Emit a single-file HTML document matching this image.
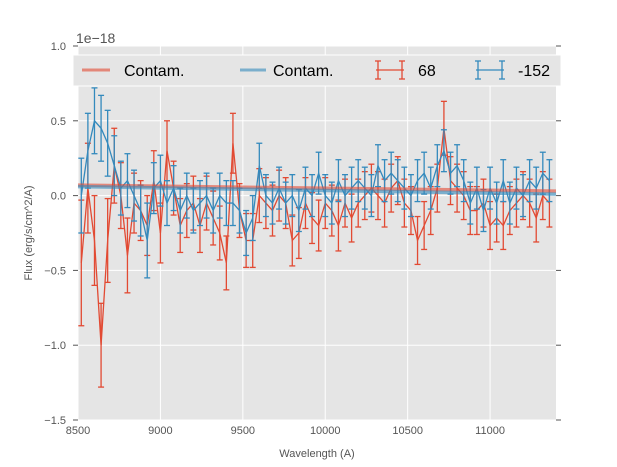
<!DOCTYPE html>
<html><head><meta charset="utf-8"><style>
body{margin:0;background:#fff;}
svg{display:block;font-family:"Liberation Sans",sans-serif;}
</style></head><body>
<svg id="chart" width="617" height="467">
<rect x="78" y="46" width="478" height="374" fill="#E5E5E5"/>
<g id="grid"></g><g id="marks"></g><g id="axes"></g>
<text x="76" y="43" font-size="14" fill="#555">1e−18</text>
<text x="317" y="457" font-size="11" fill="#555" text-anchor="middle">Wavelength (A)</text>
<text transform="translate(32,233) rotate(-90)" font-size="11" fill="#555" text-anchor="middle">Flux (erg/s/cm^2/A)</text>
<g>
<rect x="73" y="55" width="488" height="31" fill="#E5E5E5" stroke="#fff" stroke-width="1"/>
<line x1="82" y1="70" x2="110" y2="70" stroke="#E24A33" stroke-width="3" opacity="0.6"/>
<text x="124" y="76" font-size="16">Contam.</text>
<line x1="240" y1="70" x2="266" y2="70" stroke="#348ABD" stroke-width="3" opacity="0.6"/>
<text x="273" y="76" font-size="16">Contam.</text>
<g stroke="#E24A33" stroke-width="1.3"><line x1="376" y1="70" x2="404" y2="70"/><line x1="378" y1="61" x2="378" y2="79"/><line x1="402" y1="61" x2="402" y2="79"/><line x1="375" y1="61" x2="381" y2="61"/><line x1="375" y1="79" x2="381" y2="79"/><line x1="399" y1="61" x2="405" y2="61"/><line x1="399" y1="79" x2="405" y2="79"/></g>
<text x="418" y="76" font-size="16">68</text>
<g stroke="#348ABD" stroke-width="1.3"><line x1="476" y1="70" x2="504" y2="70"/><line x1="478" y1="61" x2="478" y2="79"/><line x1="502" y1="61" x2="502" y2="79"/><line x1="475" y1="61" x2="481" y2="61"/><line x1="475" y1="79" x2="481" y2="79"/><line x1="499" y1="61" x2="505" y2="61"/><line x1="499" y1="79" x2="505" y2="79"/></g>
<text x="518" y="76" font-size="16">-152</text>
</g>
</svg>
<script>
const waves=[8520,8560,8600,8640,8680,8720,8760,8800,8840,8880,8920,8960,9000,9040,9080,9120,9160,9200,9240,9280,9320,9360,9400,9440,9480,9520,9560,9600,9640,9680,9720,9760,9800,9840,9880,9920,9960,10000,10040,10080,10120,10160,10200,10240,10280,10320,10360,10400,10440,10480,10520,10560,10600,10640,10680,10720,10760,10800,10840,10880,10920,10960,11000,11040,11080,11120,11160,11200,11240,11280,11320,11360];
const red=[-0.45,0.05,-0.3,-1.0,-0.3,0.2,0.0,-0.4,-0.05,-0.1,-0.2,0.1,-0.25,0.3,0.05,-0.2,-0.1,-0.05,-0.2,-0.05,-0.15,-0.25,-0.45,0.35,-0.1,-0.3,-0.3,0.0,-0.05,-0.1,0.0,-0.05,-0.3,-0.25,-0.05,-0.15,-0.2,-0.05,-0.1,-0.2,-0.05,-0.15,-0.05,0.0,0.05,0.0,-0.05,0.05,0.1,-0.05,-0.1,-0.3,-0.2,-0.1,0.05,0.45,0.1,0.05,0.0,-0.1,-0.1,-0.05,-0.2,-0.15,-0.2,-0.1,-0.05,0.0,-0.05,-0.15,0.0,-0.05];
const redErr=[0.42,0.3,0.3,0.28,0.28,0.25,0.22,0.25,0.2,0.2,0.2,0.2,0.2,0.2,0.18,0.18,0.18,0.18,0.18,0.18,0.18,0.18,0.18,0.2,0.18,0.18,0.18,0.18,0.17,0.17,0.17,0.17,0.17,0.17,0.17,0.17,0.17,0.17,0.17,0.17,0.16,0.16,0.16,0.16,0.16,0.16,0.16,0.16,0.16,0.16,0.16,0.16,0.16,0.16,0.16,0.18,0.16,0.16,0.16,0.16,0.16,0.16,0.16,0.16,0.16,0.16,0.16,0.16,0.16,0.16,0.16,0.16];
const blue=[0.0,0.3,0.5,0.45,0.35,0.2,0.05,0.1,0.0,-0.1,-0.3,0.05,0.1,-0.05,0.05,-0.1,0.0,-0.1,-0.05,0.0,-0.1,0.0,-0.05,-0.05,-0.1,-0.25,-0.15,0.2,0.0,-0.05,0.05,-0.05,0.0,-0.1,0.05,0.0,0.15,0.0,-0.05,0.1,0.0,0.05,0.1,0.05,0.0,0.2,0.1,0.15,0.1,0.05,0.0,0.1,0.15,0.05,0.2,0.3,0.15,0.2,0.1,-0.05,0.05,-0.1,0.05,-0.05,0.1,-0.05,0.05,0.0,0.1,0.05,0.15,0.1];
const blueErr=[0.25,0.25,0.22,0.22,0.22,0.2,0.18,0.18,0.17,0.17,0.25,0.17,0.17,0.15,0.15,0.15,0.15,0.15,0.15,0.15,0.15,0.15,0.15,0.15,0.15,0.15,0.15,0.15,0.14,0.14,0.14,0.14,0.14,0.14,0.14,0.14,0.14,0.14,0.14,0.14,0.14,0.14,0.14,0.14,0.14,0.14,0.14,0.14,0.14,0.14,0.14,0.14,0.14,0.14,0.14,0.14,0.14,0.14,0.14,0.14,0.14,0.14,0.14,0.14,0.14,0.14,0.14,0.14,0.14,0.14,0.14,0.14];
const contamWaves=[8500,11400];
const contamRed=[0.07,0.03];
const contamBlue=[0.06,0.01];
const xTicks=[8500,9000,9500,10000,10500,11000];
const yTicks=[-1.5,-1.0,-0.5,0.0,0.5,1.0];

const NS="http://www.w3.org/2000/svg";
const X=v=>78+(v-8500)/2900*478;
const Y=v=>46+(1.0-v)/2.5*374;
function mk(tag,attrs,parent){const e=document.createElementNS(NS,tag);for(const k in attrs)e.setAttribute(k,attrs[k]);parent.appendChild(e);return e;}
const grid=document.getElementById('grid'),marks=document.getElementById('marks'),axes=document.getElementById('axes');
xTicks.forEach(t=>{
  const l=mk('line',{x1:X(t),x2:X(t),y1:46,y2:420,stroke:'#fff','stroke-width':1},grid);
  
  
  const tx=mk('text',{x:X(t),y:434,'font-size':11,fill:'#555','text-anchor':'middle'},axes);
  tx.textContent=t;
  
  
});
yTicks.forEach(t=>{
  const l=mk('line',{x1:78,x2:556,y1:Y(t),y2:Y(t),stroke:'#fff','stroke-width':1},grid);
  
  
  mk('line',{x1:556,x2:561,y1:Y(t),y2:Y(t),stroke:'#555','stroke-width':1},axes);
  mk('line',{x1:73,x2:78,y1:Y(t),y2:Y(t),stroke:'#555','stroke-width':1},axes);
  const tx=mk('text',{x:66,y:Y(t)+4,'font-size':11,fill:'#555','text-anchor':'end'},axes);
  tx.textContent=(t<0?'−':'')+Math.abs(t).toFixed(1);
  
  
});
function series(vals,errs,color,name){
  const g=mk('g',{stroke:color,fill:'none','stroke-width':1.3},marks);
  
  
  vals.forEach((v,i)=>{
    const x=X(waves[i]);
    mk('line',{x1:x,x2:x,y1:Y(v-errs[i]),y2:Y(v+errs[i])},g);
    mk('line',{x1:x-3,x2:x+3,y1:Y(v-errs[i]),y2:Y(v-errs[i])},g);
    mk('line',{x1:x-3,x2:x+3,y1:Y(v+errs[i]),y2:Y(v+errs[i])},g);
  });
  mk('polyline',{points:vals.map((v,i)=>X(waves[i])+','+Y(v)).join(' ')},g);
}
series(red,redErr,'#E24A33','series-68');
series(blue,blueErr,'#348ABD','series-minus-152');
[[contamRed,'#E24A33','contam-red-line'],[contamBlue,'#348ABD','contam-blue-line']].forEach(([d,c,n])=>{
  const l=mk('polyline',{points:d.map((v,i)=>X(contamWaves[i])+','+Y(v)).join(' '),stroke:c,'stroke-width':3.5,opacity:0.6,fill:'none'},marks);
  
  
});
</script>
</body></html>
